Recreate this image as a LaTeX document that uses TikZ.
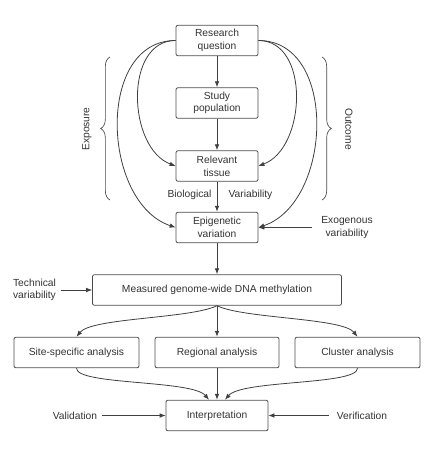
\documentclass[tikz,border=0pt]{standalone}
\usepackage{fontspec}
\setmainfont{Liberation Sans}
\usetikzlibrary{arrows.meta,decorations.pathreplacing}

\begin{document}
\begin{tikzpicture}[x=0.75pt,y=-0.75pt,
    font=\fontsize{7.7}{9.5}\selectfont, text=black!80,
    kasten/.style={draw=black!70, line width=0.6pt, rounded corners=1.5pt, align=center, inner sep=0pt, minimum height=23pt},
    pfeil/.style={draw=black!75, line width=0.6pt, -{Latex[length=4.5pt,width=3.5pt]}},
    klammer/.style={draw=black!70, line width=0.5pt, decorate, decoration={brace,amplitude=7pt}}]
    \useasboundingbox (0,0) rectangle (430,449);
    % Kästen oben
    \node[kasten, minimum width=61.5pt] (rq) at (217,40.5) {Research\\question};
    \node[kasten, minimum width=61.5pt] (sp) at (217,103) {Study\\population};
    \node[kasten, minimum width=61.5pt] (rt) at (217,166) {Relevant\\tissue};
    \node[kasten, minimum width=61.5pt] (ev) at (217,227.5) {Epigenetic\\variation};
    % Messung und Analysen
    \node[kasten, minimum width=186.75pt] (dm) at (217,290) {Measured genome-wide DNA methylation};
    \node[kasten, minimum width=93.75pt] (ss) at (76.5,352.5) {Site-specific analysis};
    \node[kasten, minimum width=93pt] (ra) at (217,352.5) {Regional analysis};
    \node[kasten, minimum width=93.75pt] (ca) at (357.5,352.5) {Cluster analysis};
    \node[kasten, minimum width=76.5pt] (ip) at (217,415.5) {Interpretation};
    % Texte
    \node (bio) at (189.5,195) {Biological};
    \node (var) at (250.5,195) {Variability};
    \node[align=center, inner sep=7pt] (exo) at (347,227.5) {Exogenous\\variability};
    \node[align=left] (tech) at (34.5,290) {Technical\\variability};
    \node (val) at (75,415.5) {Validation};
    \node[inner sep=6pt] (ver) at (362,415.5) {Verification};
    \node[rotate=90] (expo) at (87,129) {Exposure};
    \node[rotate=-90] (outc) at (349,129) {Outcome};
    % Pfeile Mitte
    \draw[pfeil] (rq) -- (sp);
    \draw[pfeil] (sp) -- (rt);
    \draw[pfeil] (rt) -- (ev);
    \draw[pfeil] (ev) -- (dm);
    \draw[pfeil] (dm) -- (ra);
    \draw[pfeil] (ra) -- (ip);
    % Bögen links und rechts
    \draw[pfeil] (rq.west) .. controls +(-52,0) and +(-48,-18) .. (rt.west);
    \draw[pfeil] (rq.west) .. controls +(-80,0) and +(-74,-25) .. (ev.west);
    \draw[pfeil] (rq.east) .. controls +(52,0) and +(48,-18) .. (rt.east);
    \draw[pfeil] (rq.east) .. controls +(80,0) and +(74,-25) .. (ev.east);
    % Klammern
    \draw[klammer] (110,200) -- (110,57);
    \draw[klammer] (322,57) -- (322,200);
    % Seitenpfeile
    \draw[pfeil] (exo) -- (ev);
    \draw[pfeil] (tech) -- (dm);
    \draw[pfeil] (val) -- (ip);
    \draw[pfeil] (ver) -- (ip);
    % Verzweigung und Zusammenführung
    \draw[pfeil] (dm.south) .. controls +(-27,13) and +(15,-19) .. (ss.north);
    \draw[pfeil] (dm.south) .. controls +(27,13) and +(-15,-19) .. (ca.north);
    \draw[pfeil] (ss.south) .. controls +(0,17) and +(-17,-20) .. ([xshift=-6pt]ip.north);
    \draw[pfeil] (ca.south) .. controls +(0,17) and +(17,-20) .. ([xshift=6pt]ip.north);
\end{tikzpicture}
\end{document}
